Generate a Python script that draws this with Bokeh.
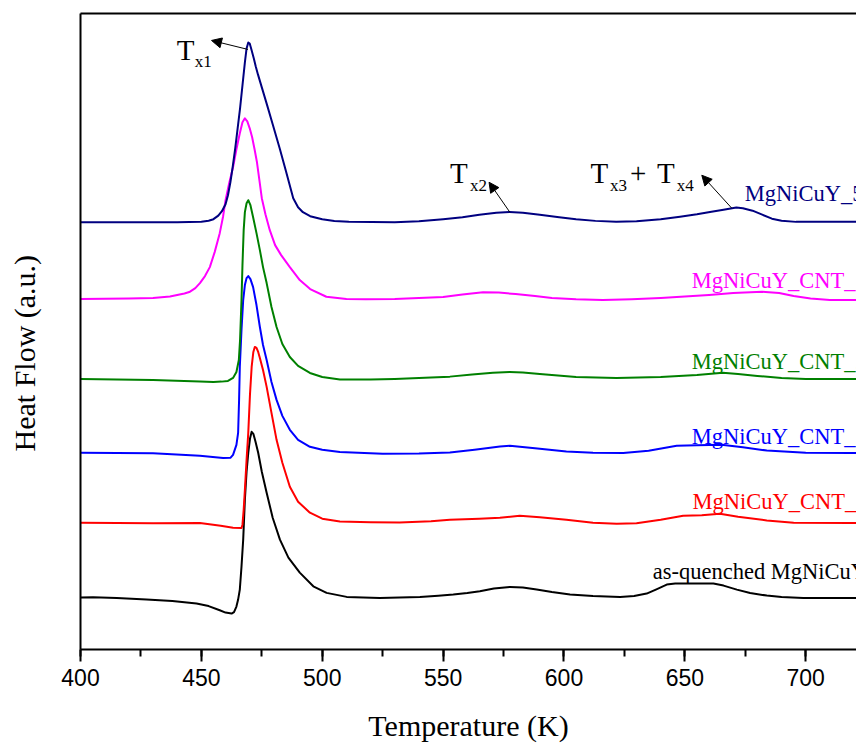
from bokeh.plotting import figure
from bokeh.models import (Range1d, LinearAxis, FixedTicker, SingleIntervalTicker,
                          Arrow, NormalHead, ColumnDataSource, Title)
from bokeh.core.properties import value
from bokeh.embed import file_html
from bokeh.resources import INLINE

# ---------------- data (Temperature in K, heat flow in a.u.) ----------------
aq_T = [400, 405.2, 415, 427.3, 438, 448, 453, 457.6, 460, 462.5, 463.5, 464.5, 465.2, 465.9,
        466.6, 467.3, 468, 468.7, 469.4, 470.1, 470.8, 471.5, 472.4, 473.5, 475, 477, 479.5,
        482.5, 486, 490.7, 496.3, 501.8, 510.1, 523.8, 532, 540.4, 548, 554.2, 560, 565.2,
        571, 577.6, 583, 588.7, 595, 602.5, 612, 623.2, 629, 634.2, 638, 642.5, 646, 650.8,
        656, 661.8, 666, 671.5, 677, 683.9, 690, 699, 721]
aq_H = [52, 52.3, 51.5, 50, 48.5, 46, 43.5, 39.3, 37, 36, 37.5, 43, 50, 60,
        83, 110, 150, 178, 197, 211, 218, 216, 208, 197, 178, 157, 132,
        110, 92, 77, 63.3, 56.7, 52.7, 51.7, 52, 52.7, 53.8, 55, 56.5, 58.3,
        61, 62.7, 62, 60, 57.5, 55, 53.5, 52.7, 53.5, 56, 60, 65, 66, 66,
        66, 66, 64, 60, 56.5, 54, 52.5, 51.7, 51.7]

c05_T = [400, 430, 449.4, 458, 463.1, 466.6, 467, 467.5, 468, 468.7, 469.4, 470.1, 470.8,
         471.5, 472.1, 472.8, 473.5, 474.2, 475.5, 477, 479, 481.1, 483.5, 486.6, 490, 494.9,
         500, 507.3, 520, 532, 545, 552.8, 565, 573.5, 581.7, 590, 601, 612, 621.8, 630,
         640, 649.3, 657, 664.5, 672, 683.9, 695, 718.3, 721]
c05_H = [127, 126.5, 126.7, 124, 122, 121.7, 125, 140, 160, 190, 217, 255, 283,
         298, 303, 302, 298, 292, 280, 263, 237, 210, 187, 163, 148, 137,
         131, 128.3, 127.5, 127.3, 128.5, 130, 131, 132, 134, 132.5, 130, 127, 126, 126.5,
         130, 134, 134.5, 136, 133, 129.3, 127, 126.7, 126.7]

c1_T = [400, 430, 449.4, 459, 462, 463.1, 464.5, 465.2, 465.6, 465.9, 466.6, 467.3, 468,
        468.7, 469.4, 470.3, 471.4, 472.8, 474.2, 475.5, 477, 479, 481.1, 483.5, 486.6, 490,
        494.9, 500, 507.3, 525, 540, 552.8, 563, 573.5, 577.6, 588, 601, 612, 624.5, 635,
        646.6, 655, 665.2, 674, 683.9, 700, 718.3, 721]
c1_H = [197, 196.5, 194, 191.7, 192, 195, 205, 217, 250, 283, 320, 350, 365,
        372, 374, 371, 363, 345, 323, 305, 290, 268, 250, 234, 220, 210,
        203, 200, 197.7, 196, 196.2, 197.3, 200, 203.3, 204, 201.5, 198.3, 197, 196.7, 199,
        204, 204.5, 205, 202.5, 199.3, 197, 196.7, 196.7]

c2_T = [400, 430, 449.4, 455, 458.3, 461, 463.1, 464.5, 465.5, 466, 466.6, 467, 467.5, 468,
        468.7, 469.4, 470.3, 471.4, 472.8, 474.2, 475.5, 477, 479, 481.1, 483.5, 486.6, 490,
        494.9, 500, 507.3, 520, 530, 545, 552.8, 562, 570.6, 577.5, 583, 590, 605, 621.7,
        640, 655, 665.7, 672, 680, 690, 700, 721]
c2_H = [271, 270, 268.3, 268, 268.3, 269, 272, 278, 290, 310, 350, 385, 420, 438,
        447, 450, 445, 433, 417, 400, 383, 367, 343, 323, 306, 293, 284,
        277, 273, 270.5, 270.5, 271, 272.5, 273.3, 275.5, 277.3, 278, 277.5, 276, 273, 272,
        273, 275, 277.3, 276, 274, 272, 271, 271]

c5_T = [400, 420, 430, 437, 440, 443, 445, 447.5, 449.4, 451.5, 453.5, 455.5, 457.6, 459,
        460, 461.5, 463.1, 464.5, 465.9, 467, 468, 469, 470, 471, 472, 473, 474, 475, 476.5,
        478.3, 480.5, 483, 486.6, 490.7, 495, 501.7, 510, 518, 530, 540, 550, 558, 566.5,
        573, 580, 588, 595, 605, 616, 628, 640, 650, 660, 670, 682, 689, 695, 702, 710, 721]
c5_H = [351, 351.5, 352, 353.5, 355, 356.5, 358, 362, 367, 374, 383, 398, 417, 434,
        450, 467, 483, 501, 517, 528, 532, 529, 522, 513, 501, 488, 470, 452, 436,
        420, 405, 395, 383, 370, 361, 353.3, 351, 350.7, 351, 352, 353, 355.5, 357.7,
        357.5, 356, 354, 352, 350.7, 350, 350.7, 352, 353.5, 355, 357, 358.3, 357, 354, 351.5, 350, 350]

n5_T = [400, 440, 450, 453, 455, 457, 458.5, 460, 461, 462, 463, 464, 465, 466, 467, 468,
        468.7, 469.4, 470, 470.7, 471.7, 472.5, 473.4, 475, 477.1, 479.5, 482.5, 485, 488, 490,
        492, 495, 500, 505, 511, 530, 540, 550, 558, 565, 572, 577.5, 583, 590, 598, 605,
        613, 621.6, 630, 640, 648, 655, 661, 666, 671.3, 674, 678, 682, 686, 690, 696, 721]
n5_H = [428, 428, 428.5, 429.5, 431, 434.5, 439, 446, 455, 468, 484, 502, 522, 542, 565, 588,
        602, 608, 607, 601, 592, 584, 576, 563, 546, 526, 501, 479, 452, 443,
        438, 434, 431, 429.2, 428.3, 428, 429, 431, 433, 435.5, 437.5, 438.3, 437.5, 435.5, 433, 431,
        429.3, 428.3, 429, 431, 433.5, 436, 438.5, 440.5, 442.7, 442, 439.5, 435.5, 431.5, 429.5, 428.3, 428.3]

series_T = [aq_T, c05_T, c1_T, c2_T, c5_T, n5_T]
series_H = [aq_H, c05_H, c1_H, c2_H, c5_H, n5_H]
series_colors = ["#000000", "#FF0000", "#0000FF", "#008000", "#FF00FF", "#000080"]

labels = ["as-quenched MgNiCuY", "MgNiCuY_CNT_0.5", "MgNiCuY_CNT_1",
          "MgNiCuY_CNT_2", "MgNiCuY_CNT_5", "MgNiCuY_5CNT"]
label_T = [636.7, 653.2, 652.8, 652.8, 652.8, 674.8]
label_H = [78.3, 148.3, 213.3, 288.3, 370, 457]

# ---------------- figure ----------------
p = figure(width=856, height=744, x_range=Range1d(400, 721), y_range=Range1d(0, 637),
           output_backend="svg", toolbar_location=None,
           x_axis_location=None, y_axis_location=None,
           min_border_left=80, min_border_right=0, min_border_top=13, min_border_bottom=94)
p.outline_line_color = None
p.grid.visible = False
p.background_fill_color = "white"
p.border_fill_color = "white"

xb = LinearAxis(ticker=SingleIntervalTicker(interval=50, num_minor_ticks=2),
                axis_label="Temperature (K)")
xb.axis_line_width = 2
xb.major_tick_line_width = 2
xb.minor_tick_line_width = 2
xb.major_tick_out = 12
xb.major_tick_in = 0
xb.minor_tick_out = 7
xb.minor_tick_in = 0
xb.major_label_text_font = "Liberation Sans"
xb.major_label_text_font_size = "23px"
xb.major_label_text_color = "black"
xb.major_label_standoff = 7
xb.axis_label_text_font = "Liberation Serif"
xb.axis_label_text_font_size = "30px"
xb.axis_label_text_font_style = "normal"
xb.axis_label_text_color = "black"
xb.axis_label_standoff = 20
p.add_layout(xb, "below")

# left axis: plain line, no visible ticks (one white spacer tick, kept off the
# axis line, reserves room so that the title sits further left)
yl = LinearAxis(ticker=FixedTicker(ticks=[600], minor_ticks=[]))
yl.axis_line_width = 2
yl.major_tick_out = 40
yl.major_tick_in = -4
yl.major_tick_line_color = "white"
yl.major_tick_line_width = 1
yl.minor_tick_line_color = None
yl.major_label_overrides = {600: ""}
yl.major_label_text_color = None
yl.major_label_standoff = 0
p.add_layout(yl, "left")

ytitle = Title(text="Heat Flow (a.u.)", align="left", offset=198,
               text_font="Liberation Serif", text_font_size="30px",
               text_font_style="normal", text_color="black", standoff=0)
p.add_layout(ytitle, "left")

xt = LinearAxis(ticker=FixedTicker(ticks=[]))
xt.axis_line_width = 2
xt.major_tick_out = 0
xt.major_tick_in = 0
xt.major_label_standoff = 0
p.add_layout(xt, "above")

for T, H, c in zip(series_T, series_H, series_colors):
    p.line(T, H, line_color=c, line_width=2, line_join="round")

src = ColumnDataSource(dict(x=label_T, y=label_H, text=labels, color=series_colors))
p.text(x="x", y="y", text="text", text_color="color", source=src,
       text_font=value("Liberation Serif"), text_font_size="22.5px",
       text_align="left", text_baseline="alphabetic")

# annotations T_x
big_txt = ["T", "T", "T", "+", "T"]
big_x = [439.8, 552.8, 611.0, 627.3, 638.5]
big_y = [600, 477, 477, 477, 477]
sub_txt = ["x1", "x2", "x3", "x4"]
sub_x = [447.3, 561.1, 619.0, 646.6]
sub_y = [589, 465, 465, 465]
p.text(x=big_x, y=big_y, text=big_txt, text_color="black",
       text_font=value("Liberation Serif"), text_font_size="29px",
       text_align="left", text_baseline="alphabetic")
p.text(x=sub_x, y=sub_y, text=sub_txt, text_color="black",
       text_font=value("Liberation Serif"), text_font_size="17px",
       text_align="left", text_baseline="alphabetic")

arrow_start = [(469.3, 601), (577.6, 438), (669.4, 442)]
arrow_end = [(454.2, 610), (569.0, 468), (657.0, 475)]
for (xs, ys), (xe, ye) in zip(arrow_start, arrow_end):
    p.add_layout(Arrow(end=NormalHead(size=10, fill_color="black", line_color="black"),
                       x_start=xs, y_start=ys, x_end=xe, y_end=ye,
                       line_color="black", line_width=1))

open("out.html", "w").write(file_html(p, INLINE))
